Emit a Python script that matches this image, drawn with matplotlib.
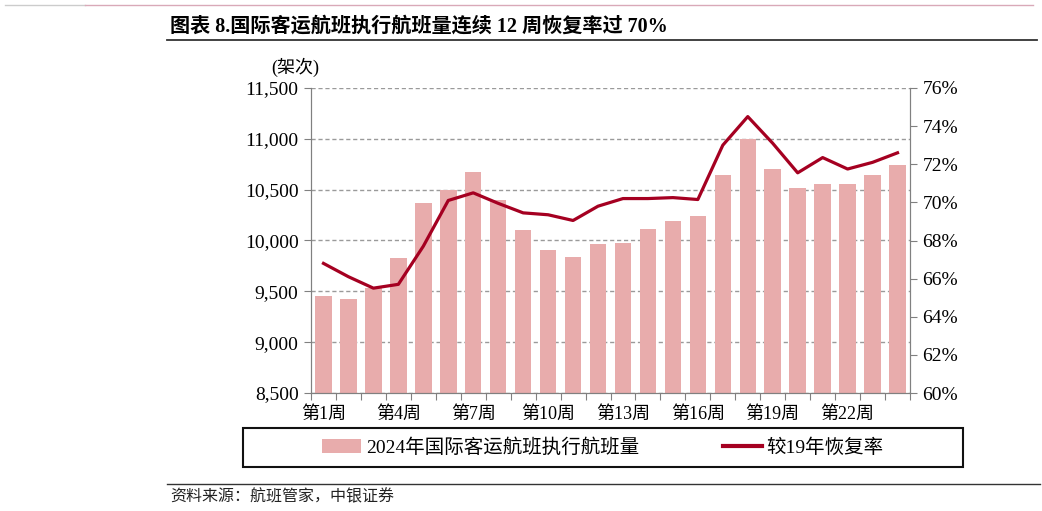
import numpy as np
import matplotlib
matplotlib.use('Agg')
import matplotlib.pyplot as plt
from matplotlib.patches import Rectangle, Patch
from matplotlib.lines import Line2D

plt.rcParams['font.family'] = ['Liberation Serif', 'Noto Sans CJK SC', 'DejaVu Sans']
plt.rcParams['axes.unicode_minus'] = False

# data
weeks = ['第%d周' % i for i in range(1, 25)]
flights = [9450, 9420, 9530, 9830, 10370, 10500, 10670, 10400, 10100, 9910, 9840, 9970,
           9980, 10110, 10190, 10245, 10640, 11000, 10700, 10515, 10560, 10560, 10640, 10745]
recovery = [66.8, 66.1, 65.5, 65.7, 67.7, 70.1, 70.5, 69.95, 69.45, 69.35, 69.05, 69.8,
            70.2, 70.2, 70.25, 70.15, 73.0, 74.5, 73.1, 71.55, 72.35, 71.75, 72.1, 72.6]
left_ticks = [8500, 9000, 9500, 10000, 10500, 11000, 11500]
right_ticks = [60, 62, 64, 66, 68, 70, 72, 74, 76]

bar_color = '#E8ACAC'
line_color = '#A50021'
W, H = 1042, 511

fig = plt.figure(figsize=(W / 100, H / 100), dpi=100)
ax = fig.add_axes([311 / W, (H - 393) / H, (910 - 311) / W, (393 - 88) / H])
x = np.arange(len(weeks))
ax.bar(x, flights, width=0.66, color=bar_color, zorder=2)
ax.set_ylim(8500, 11500)
ax.set_xlim(-0.5, len(weeks) - 0.5)
ax.set_yticks(left_ticks)
ax.set_yticklabels(['{:,}'.format(v) for v in left_ticks], fontsize=14)
ax.yaxis.grid(True, linestyle=(0, (3, 2)), color='#9a9a9a', linewidth=1, zorder=0)
ax.set_axisbelow(True)

# category ticks at boundaries, labels every 3 weeks
ax.set_xticks(np.arange(-0.5, len(weeks)), minor=False)
ax.set_xticklabels([])
ax.set_xticks(x[::3], minor=True)
ax.set_xticklabels([weeks[i] for i in x[::3]], minor=True, fontsize=13)
ax.tick_params(axis='x', which='minor', length=0, pad=9)
ax.tick_params(axis='x', which='major', length=5, color='#808080', direction='out')
ax.tick_params(axis='y', length=5, color='#808080', pad=4)
for s in ['left', 'bottom', 'right']:
    ax.spines[s].set_color('#808080')
ax.spines['top'].set_visible(False)

ax2 = ax.twinx()
ax2.plot(x, recovery, color=line_color, linewidth=2.3, zorder=3, solid_joinstyle='round')
ax2.set_ylim(60, 76)
ax2.set_yticks(right_ticks)
ax2.set_yticklabels(['%d%%' % v for v in right_ticks], fontsize=14)
ax2.tick_params(axis='y', length=5, color='#808080', pad=4)
for s in ['left', 'bottom', 'right']:
    ax2.spines[s].set_color('#808080')
ax2.spines['top'].set_visible(False)

fig.text(295 / W, 1 - 67 / H, '(架次)', fontsize=13, ha='center', va='center')

# title and rules
fig.text(170 / W, 1 - 27 / H, '图表 8.国际客运航班执行航班量连续 12 周恢复率过 70%',
         fontsize=14.5, fontweight='bold', ha='left', va='center')
fig.add_artist(Line2D([5 / W, 85 / W], [1 - 5 / H, 1 - 5 / H], color='#cccccc', lw=1))
fig.add_artist(Line2D([85 / W, 1033 / W], [1 - 5 / H, 1 - 5 / H], color='#d9a9b8', lw=1))
fig.add_artist(Line2D([167 / W, 1037 / W], [1 - 40 / H, 1 - 40 / H], color='#333333', lw=1.3))
fig.add_artist(Line2D([167 / W, 1040 / W], [1 - 484 / H, 1 - 484 / H], color='#333333', lw=1.0))
fig.text(170 / W, 1 - 497 / H, '资料来源：航班管家，中银证券', fontsize=11.5, style='italic',
         ha='left', va='center', color='#222222')

# legend box
fig.add_artist(Rectangle((243 / W, (H - 467) / H), 720 / W, 39 / H, transform=fig.transFigure,
                         fill=False, edgecolor='#111111', lw=1.5))
handles = [Patch(facecolor=bar_color, edgecolor='none'),
           Line2D([], [], color=line_color, lw=3)]
fig.legend(handles, ['2024年国际客运航班执行航班量', '较19年恢复率'], ncol=2, frameon=False,
           loc='center', bbox_to_anchor=(603 / W, 1 - 447.5 / H), fontsize=14,
           handlelength=2.0, handleheight=0.7, handletextpad=0.25, columnspacing=4.3)

fig.savefig('out.png', dpi=100)
